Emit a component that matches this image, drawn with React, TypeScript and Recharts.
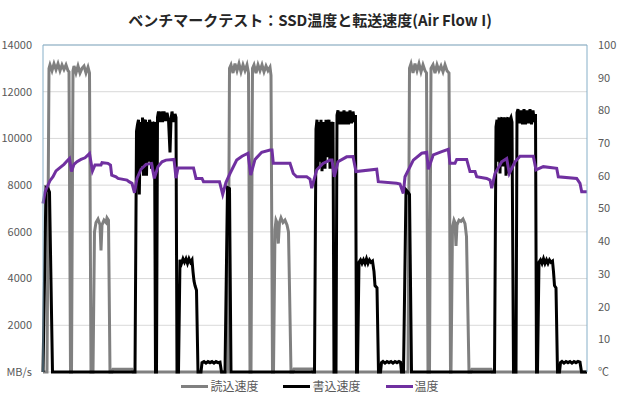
import { LineChart, Line, XAxis, YAxis, CartesianGrid, ReferenceLine } from "recharts"

// time (s) , MB/s
const readSpeed: [number, number][] = [
  [0, 0], [4, 0], [6, 13000], [7, 13150], [9, 12900], [11, 13200], [13, 12950], [15, 13200], [17, 12900], [19, 13150],
  [21, 12950], [23, 13150], [25, 12900], [26, 12850], [27.5, 0], [28.5, 0], [30, 12900], [31, 13100], [33, 12800], [35, 13100],
  [37, 12800], [39, 13000], [41, 13100], [43, 12800], [45, 13050], [46.5, 12800], [48, 0], [50, 0], [51.5, 6000], [53, 6400],
  [55, 6550], [57, 6300], [58, 5200], [59, 6300], [61, 6500], [63, 6400], [64, 6600], [65.5, 6500], [67, 0], [69, 0],
  [70, 120], [89, 120], [90, 0], [185, 0],
  [186.5, 13000], [188, 13150], [190, 12800], [192, 13200], [194, 12900], [196, 13200], [198, 12850], [200, 13150], [202, 12900], [204, 13150],
  [205.5, 12800], [207, 0], [208, 0], [209.5, 13000], [211, 13150], [213, 12800], [215, 13150], [217, 12900], [219, 13150], [221, 12850],
  [223, 13100], [225, 12900], [227, 13050], [228, 12700], [229.5, 0], [230.5, 0], [232, 6100], [233, 6500], [234, 6400], [235.3, 5500],
  [236.5, 6400], [238, 6600], [240, 6400], [242, 6500], [244, 6300], [245.5, 6000], [248, 0], [250, 0], [251, 130], [269, 130],
  [270, 0], [365, 0],
  [366.5, 13000], [368, 13200], [370, 12800], [372, 13200], [374, 12900], [376, 13200], [378, 12850], [380, 13150], [382, 12900], [383.5, 12800],
  [385, 0], [386.5, 0], [388, 13000], [390, 13150], [392, 12800], [394, 13150], [396, 12900], [398, 13100], [400, 12850], [402, 13150],
  [404, 12900], [406, 12800], [407.5, 0], [408, 0], [409.5, 6200], [411, 6500], [412, 6400], [413, 5400], [414, 6300], [416, 6500],
  [418, 6450], [420, 6550], [422, 6350], [423.5, 5800], [426, 0], [428, 0], [429, 120], [448, 120], [449, 0], [544, 0],
]

const writeSpeed: [number, number][] = [
  [0, 0], [3, 7900], [5, 7850], [6.5, 7700], [9.5, 0], [92, 0], [93.5, 10300], [94.5, 10600], [95.5, 10800], [96.3, 7600],
  [97.5, 10700], [98.5, 8800], [99.5, 10900], [100.5, 8400], [101.5, 10700], [102.5, 10800], [103.5, 8400], [104.5, 10700], [105.5, 9000], [106.5, 10800],
  [107.5, 10600], [108.5, 8700], [109.5, 10700], [110.5, 10600], [111.5, 10700], [112.5, 0], [113.5, 0], [114.5, 10900], [115.5, 11150], [117, 10700],
  [118, 11150], [119.5, 10700], [121, 11150], [122.5, 10750], [124, 11100], [125.5, 10800], [127, 9400], [128, 10800], [129, 11150], [130.5, 10700],
  [132, 11050], [133, 10900], [134, 0], [135.5, 0], [137, 4800], [138.5, 4650], [140, 4850], [141.5, 4700], [143, 4850], [144.5, 4650],
  [146, 4850], [147.5, 4700], [149, 4800], [150, 4300], [151, 3900], [152, 3700], [153.5, 3500], [155, 0], [158, 0], [159, 400],
  [161, 450], [163, 380], [165, 450], [167, 400], [169, 450], [171, 380], [173, 450], [175, 400], [177, 420], [178.5, 0],
  [182, 0], [184.5, 7900], [186.5, 7850], [188, 0], [271.5, 0], [273, 10400], [274, 10800], [275, 8700], [276, 10700], [277, 9000],
  [278, 10800], [279, 8600], [280, 10700], [281, 10500], [282, 8700], [283, 10800], [284, 9200], [285, 10600], [286, 10800], [287, 8700],
  [288, 10700], [289, 10500], [290, 10700], [291, 0], [293, 0], [294, 11000], [295, 11200], [296.5, 10600], [298, 11150], [299.5, 10600],
  [301, 11200], [302.5, 10600], [304, 11150], [305.5, 10600], [307, 11200], [308.5, 10650], [310, 11150], [311.5, 10700], [312.5, 11000], [313.5, 0],
  [314.5, 0], [316, 4700], [317.5, 4800], [319, 4650], [320.5, 4800], [322, 4650], [323.5, 4850], [325, 4650], [326.5, 4800], [328, 4700],
  [329.5, 4750], [331, 4300], [332, 3700], [334, 3600], [335.5, 0], [337.5, 0], [338.5, 400], [340, 450], [342, 380], [344, 450],
  [346, 400], [348, 450], [350, 380], [352, 450], [354, 400], [356, 450], [357.5, 420], [358.5, 0], [360.5, 0], [363, 7800],
  [365, 7700], [366.5, 7600], [368.5, 0], [451.5, 0], [453, 10500], [454, 10800], [455, 9000], [456, 10900], [457, 8500], [458, 10800],
  [459, 10900], [460, 8800], [461, 10700], [462, 10900], [463, 8400], [464, 10800], [465, 10900], [466, 8500], [467, 10800], [468, 10900],
  [469, 10700], [470.5, 0], [473, 0], [474, 11100], [475, 11250], [476.5, 10650], [478, 11200], [479.5, 10600], [481, 11250], [482.5, 10600],
  [484, 11200], [485.5, 10650], [487, 11250], [488.5, 10600], [490, 11200], [491.5, 10700], [492.5, 11050], [493.5, 0], [494.5, 0], [496, 4700],
  [497.5, 4800], [499, 4650], [500.5, 4850], [502, 4650], [503.5, 4800], [505, 4650], [506.5, 4800], [508, 4700], [509.5, 4750], [510.5, 4300],
  [511.5, 3700], [513, 3600], [514.5, 0], [516.5, 0], [517.5, 400], [519, 450], [521, 380], [523, 450], [525, 400], [527, 450],
  [529, 380], [531, 450], [533, 400], [535, 450], [537, 420], [538.5, 0], [544, 0],
]

// time (s), ℃
const ssdTemp: [number, number][] = [
  [0, 51.5], [2, 55], [4, 56.5], [7, 58.5], [10, 59.7], [13, 61.5], [17, 62.5], [21, 63.5], [24, 64.5], [26.5, 65.3],
  [28.5, 61.3], [31, 63.5], [34, 64.3], [38, 65], [42, 65.5], [46.5, 66.8], [49.5, 61.5], [52, 63.3], [58, 63.3], [59, 64],
  [65, 63.8], [67.5, 63.3], [68.7, 60.2], [73, 59.7], [75, 59.2], [84, 58.7], [86, 58.2], [89, 57.7], [91.5, 54.8], [94, 59.2],
  [98, 62], [103, 63.5], [108.5, 63.8], [111.3, 59.2], [115, 62.8], [119, 64.3], [123, 64.8], [131, 65], [133, 59.3], [135, 62.4],
  [150.5, 62.4], [153, 59.2], [159, 59.2], [160.5, 58.2], [176.5, 58.2], [179.7, 54.3], [183, 58], [187, 60.7], [193.7, 64.8], [199, 66],
  [205, 66.9], [207.7, 60.2], [212, 65], [218.7, 67.2], [227, 67.9], [229, 67.9], [230.3, 63.8], [247, 63.8], [250.3, 60.7], [253.7, 59.7],
  [263.7, 59.7], [267, 59], [268.7, 56.2], [273.7, 61.8], [280, 63.8], [287, 64.8], [289, 64.8], [291.3, 59.7], [295, 64.3], [303.7, 65.8],
  [310, 65.9], [313, 61.3], [333.7, 62], [335.3, 58.2], [353.7, 57.7], [357, 57.5], [360.3, 54.6], [362, 59.7], [370.3, 64.8], [378.7, 66.9],
  [383.7, 67.2], [385.3, 62], [390.3, 66.4], [398.7, 67.4], [405.3, 68.1], [407, 63.8], [412, 63.8], [413.7, 65], [423.7, 65], [427, 61.3],
  [432, 61.3], [433.7, 59.7], [443.7, 59.2], [447, 58.7], [448.7, 56.2], [452, 60.7], [458.7, 64.3], [463.7, 65.3], [466.3, 60.7], [472, 64.3],
  [477, 66], [490.3, 66], [493, 61.8], [500.3, 62.8], [513.7, 62.3], [515.3, 59.7], [533.7, 59.2], [537, 57.7], [538.7, 55.1], [544, 55.1],
]

const speedTicks = [0, 2000, 4000, 6000, 8000, 10000, 12000, 14000]
const tempTicks = [0, 10, 20, 30, 40, 50, 60, 70, 80, 90, 100]
const seriesNames = ["読込速度", "書込速度", "温度"]
const seriesColors = ["#808080", "#000000", "#7030a0"]
const title = "ベンチマークテスト：SSD温度と転送速度(Air Flow I)"

const font = "'Noto Sans CJK JP', 'Noto Sans', sans-serif"
const borderColor = "#86afc8"

const toRows = (pts: [number, number][]) => pts.map(([t, v]) => ({ t, v }))

export default function App() {
  const tickStyle = { fill: "#595959", fontSize: 11, fontFamily: font }
  return (
    <div style={{ position: "absolute", left: 0, top: 0, width: 620, height: 400, background: "#fff", fontFamily: font }}>
      <div style={{ position: "absolute", top: 9, left: 0, width: 620, textAlign: "center", fontSize: 15, fontWeight: 700, color: "#262626", lineHeight: "22px" }}>
        {title}
      </div>
      <LineChart width={620} height={400} margin={{ top: 45, right: 0, bottom: 28, left: 0 }}>
        <XAxis dataKey="t" type="number" domain={[0, 544]} hide />
        <YAxis yAxisId="speed" orientation="left" width={43} domain={[0, 14000]} ticks={speedTicks}
          tickFormatter={(v) => (v === 0 ? "MB/s" : String(v))}
          tick={tickStyle} tickLine={false} tickMargin={5} axisLine={{ stroke: borderColor }} />
        <YAxis yAxisId="temp" orientation="right" width={33} domain={[0, 100]} ticks={tempTicks}
          tickFormatter={(v) => (v === 0 ? "℃" : String(v))}
          tick={tickStyle} tickLine={false} tickMargin={5} axisLine={{ stroke: borderColor }} />
        <CartesianGrid yAxisId="speed" vertical={false} stroke="#d9d9d9" />
        <ReferenceLine yAxisId="speed" y={14000} stroke={borderColor} />
        <Line data={toRows(readSpeed)} dataKey="v" name={seriesNames[0]} yAxisId="speed" type="linear"
          stroke={seriesColors[0]} strokeWidth={3} dot={false} isAnimationActive={false} />
        <Line data={toRows(writeSpeed)} dataKey="v" name={seriesNames[1]} yAxisId="speed" type="linear"
          stroke={seriesColors[1]} strokeWidth={3} dot={false} isAnimationActive={false} />
        <Line data={toRows(ssdTemp)} dataKey="v" name={seriesNames[2]} yAxisId="temp" type="linear"
          stroke={seriesColors[2]} strokeWidth={3} dot={false} isAnimationActive={false} />
      </LineChart>
      <div style={{ position: "absolute", top: 377, left: 0, width: 620, display: "flex", justifyContent: "center", gap: 25, fontSize: 12, color: "#595959" }}>
        {seriesNames.map((n, i) => (
          <div key={n} style={{ display: "flex", alignItems: "center", gap: 2 }}>
            <span style={{ display: "inline-block", width: 27, height: 3, background: seriesColors[i] }} />
            <span style={{ lineHeight: "18px" }}>{n}</span>
          </div>
        ))}
      </div>
    </div>
  )
}
